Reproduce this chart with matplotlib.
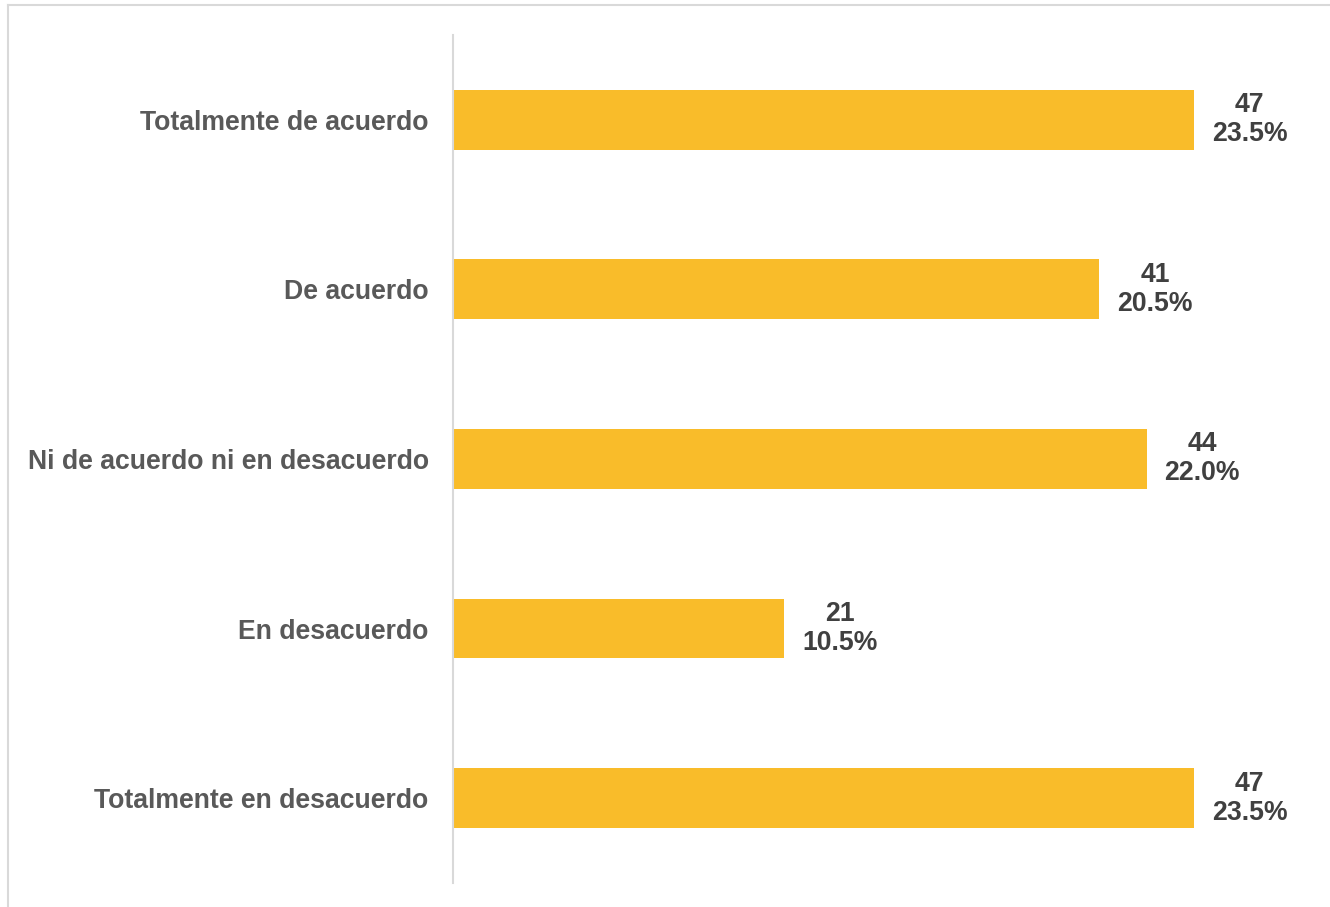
import matplotlib.pyplot as plt
from matplotlib.lines import Line2D


# =========================================
# DATA
# =========================================

categories = [
    "Totalmente de acuerdo",
    "De acuerdo",
    "Ni de acuerdo ni en desacuerdo",
    "En desacuerdo",
    "Totalmente en desacuerdo",
]

counts = [47, 41, 44, 21, 47]

percents = [23.5, 20.5, 22.0, 10.5, 23.5]


# =========================================
# CHART
# =========================================

plt.rcParams["font.family"] = ["Liberation Sans", "DejaVu Sans"]

fig = plt.figure(figsize=(13.3, 9.07), dpi=100)

ax = fig.add_axes([0.3406, 0.0265, 0.652, 0.935])

positions = list(range(len(categories)))

bars = ax.barh(
    positions,
    counts,
    height=0.353,
    color="#F9BC2A",
)

ax.set_ylim(len(categories) - 0.5, -0.5)
ax.set_xlim(0, 55)

ax.set_yticks(positions)
ax.set_yticklabels(
    categories,
    fontsize=19.2,
    fontweight="bold",
    color="#595959",
)
ax.tick_params(axis="y", length=0, pad=17.5)
ax.set_xticks([])

for side in ["top", "right", "bottom"]:
    ax.spines[side].set_visible(False)

ax.spines["left"].set_color("#D9D9D9")
ax.spines["left"].set_linewidth(1.5)

# =====================================
# LABELS
# =====================================

for bar, count, pct in zip(bars, counts, percents):

    ax.annotate(
        f"{count}\n{pct:.1f}%",
        xy=(bar.get_width(), bar.get_y() + bar.get_height() / 2),
        xytext=(40, 0),
        textcoords="offset points",
        ha="center",
        va="center",
        multialignment="center",
        fontsize=19.2,
        fontweight="bold",
        color="#404040",
        linespacing=1.15,
    )

# =====================================
# BORDER
# =====================================

border_color = "#D9D9D9"

fig.add_artist(Line2D(
    [8 / 1330, 8 / 1330], [0, 1 - 5 / 907],
    transform=fig.transFigure, color=border_color, linewidth=1.5,
))
fig.add_artist(Line2D(
    [8 / 1330, 1], [1 - 5 / 907, 1 - 5 / 907],
    transform=fig.transFigure, color=border_color, linewidth=1.5,
))

fig.savefig("out.png", dpi=100)
plt.close(fig)
